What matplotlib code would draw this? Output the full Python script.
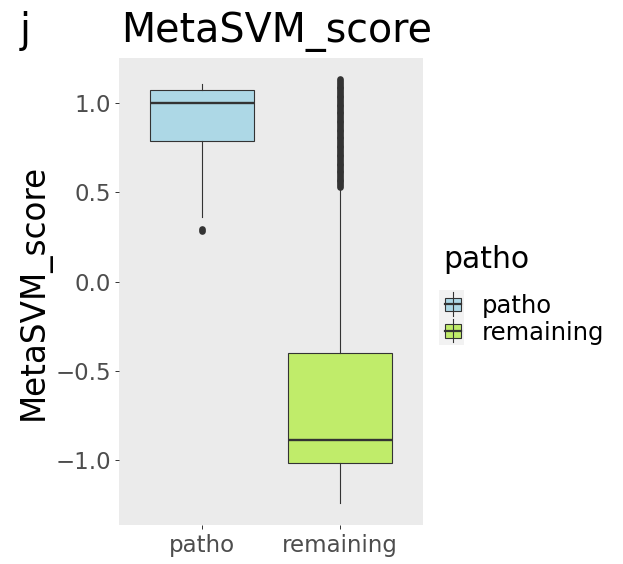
import matplotlib
matplotlib.use("Agg")
import matplotlib.pyplot as plt
from matplotlib.patches import Rectangle
from matplotlib.lines import Line2D

# ---------------- data ----------------
categories = ["patho", "remaining"]
box_colors = ["#ADD8E6", "#C0EC6A"]
medians = [1.0, -0.888]
q1s = [0.787, -1.013]
q3s = [1.073, -0.397]
whislos = [0.362, -1.241]
whishis = [1.105, 0.525]
patho_outliers = [0.280, 0.295]
remaining_outliers = [0.53, 0.54, 0.55, 0.56, 0.57, 0.58, 0.59, 0.60, 0.61, 0.62,
                      0.63, 0.64, 0.65, 0.66, 0.67, 0.68, 0.69, 0.70, 0.71, 0.72,
                      0.73, 0.74, 0.75, 0.76, 0.77, 0.78, 0.79, 0.80, 0.81, 0.82,
                      0.83, 0.84, 0.85, 0.86, 0.87, 0.88, 0.89, 0.90, 0.91, 0.92,
                      0.93, 0.94, 0.95, 0.96, 0.97, 0.98, 0.99, 1.00, 1.01, 1.02,
                      1.03, 1.04, 1.05, 1.06, 1.07, 1.08, 1.09, 1.10, 1.11, 1.12, 1.13]
yticks = [-1.0, -0.5, 0.0, 0.5, 1.0]
ytick_labels = ["\u22121.0", "\u22120.5", "0.0", "0.5", "1.0"]
title = "MetaSVM_score"
ylabel = "MetaSVM_score"
legend_title = "patho"
panel_tag = "j"

# ---------------- figure ----------------
W, H = 623, 564
fig = plt.figure(figsize=(W / 100, H / 100), dpi=100)
plt.rcParams['font.family'] = ['DejaVu Sans']


def fx(x):
    return x / W


def fy(y):
    return 1 - y / H


ax = fig.add_axes([fx(119.3), fy(524.6), (422.7 - 119.3) / W, (524.6 - 58.3) / H])
ax.set_facecolor("#EBEBEB")
for s in ax.spines.values():
    s.set_visible(False)

fliers = [patho_outliers, remaining_outliers]
stats = []
for i, c in enumerate(categories):
    stats.append(dict(label=c, med=medians[i], q1=q1s[i], q3=q3s[i],
                      whislo=whislos[i], whishi=whishis[i], fliers=fliers[i]))

edge = "#333333"
bp = ax.bxp(stats, positions=[1, 2], widths=0.75, patch_artist=True,
            showcaps=False,
            boxprops=dict(edgecolor=edge, linewidth=0.8),
            whiskerprops=dict(color=edge, linewidth=0.8),
            medianprops=dict(color=edge, linewidth=1.7),
            flierprops=dict(marker='o', markersize=4.8, markerfacecolor=edge,
                            markeredgecolor=edge, markeredgewidth=0, linestyle='none'))
for patch, col in zip(bp['boxes'], box_colors):
    patch.set_facecolor(col)
for med in bp['medians']:
    med.set_solid_capstyle('butt')

all_vals = whislos + whishis + patho_outliers + remaining_outliers
lo, hi = min(all_vals), max(all_vals)
pad = 0.05 * (hi - lo)
ax.set_ylim(lo - pad, hi + pad)
ax.set_xlim(0.4, 2.6)

ax.set_yticks(yticks)
ax.set_yticklabels(ytick_labels)
ax.set_xticks([1, 2])
ax.set_xticklabels(categories)
ax.tick_params(axis='both', colors="#333333", labelcolor="#4D4D4D",
               length=2.9, width=0.7, labelsize=16.5, pad=3)
ax.tick_params(axis='x', pad=4)
ax.grid(False)

# y label
fig.text(fx(34), fy(292), ylabel, rotation=90, ha='center', va='center',
         fontsize=23.5, color='black')
# title and tag
fig.text(fx(121), fy(41.7), title, ha='left', va='baseline', fontsize=28.5, color='black')
fig.text(fx(20), fy(41.7), panel_tag, ha='left', va='baseline', fontsize=28.5, color='black')

# ---------------- legend ----------------
fig.text(fx(443), fy(268.3), legend_title, ha='left', va='baseline', fontsize=21.5, color='black')
fig.add_artist(Rectangle((fx(439), fy(345)), (464 - 439) / W, (345 - 290) / H,
                         transform=fig.transFigure, facecolor="#F2F2F2", edgecolor='none'))
key_centers = [304.3, 330.8]
label_baselines = [313, 340]
for i, c in enumerate(categories):
    cy = key_centers[i]
    fig.add_artist(Line2D([fx(453), fx(453)], [fy(cy - 12), fy(cy + 11.5)],
                          transform=fig.transFigure, color=edge, linewidth=0.8))
    fig.add_artist(Rectangle((fx(445), fy(cy + 6.7)), 16 / W, 13.4 / H,
                             transform=fig.transFigure, facecolor=box_colors[i],
                             edgecolor=edge, linewidth=0.8))
    fig.add_artist(Line2D([fx(445), fx(461)], [fy(cy), fy(cy)],
                          transform=fig.transFigure, color=edge, linewidth=1.6))
    fig.text(fx(482), fy(label_baselines[i]), c, ha='left', va='baseline',
             fontsize=17.5, color='black')

fig.savefig("out.png", dpi=100)
